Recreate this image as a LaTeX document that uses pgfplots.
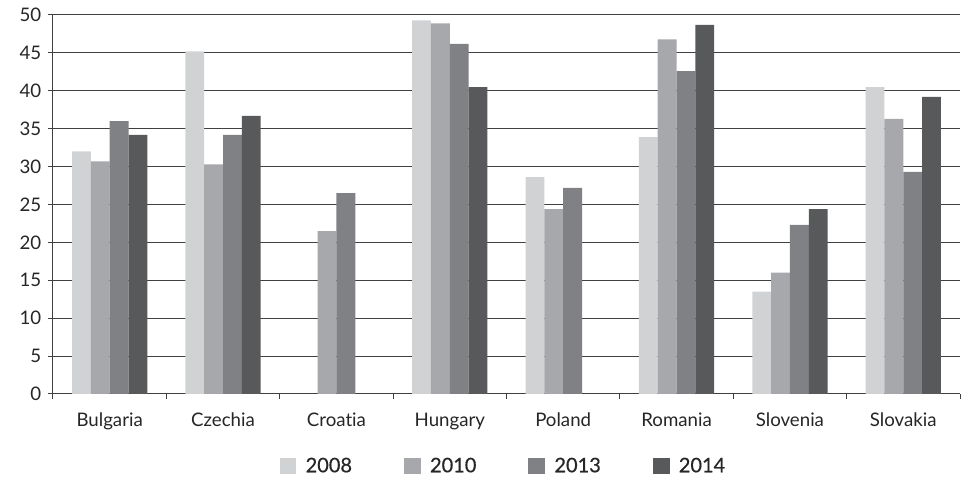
\documentclass[border=0pt]{standalone}
\usepackage{fontspec}
\setmainfont{Lato}[Ligatures=CommonOff]
\newfontfamily\legendfont{Lato}[Ligatures=CommonOff, FakeBold=0.6]
\usepackage{pgfplots}
\pgfplotsset{compat=1.18}

\definecolor{c2008}{HTML}{D1D2D4}
\definecolor{c2010}{HTML}{A7A8AB}
\definecolor{c2013}{HTML}{808184}
\definecolor{c2014}{HTML}{58595B}
\definecolor{gridc}{HTML}{404040}

\begin{document}
\begin{tikzpicture}
\useasboundingbox (-39.75pt,-62.25pt) rectangle (681pt,295.5pt);
\begin{axis}[
  at={(0,0)}, anchor=south west,
  width=680.25pt, height=284.25pt, scale only axis,
  xmin=-0.5, xmax=7.5, ymin=0, ymax=50,
  ytick={0,5,...,50},
  xtick={0,...,7},
  xticklabels={Bulgaria,Czechia,Croatia,Hungary,Poland,Romania,Slovenia,Slovakia},
  minor xtick={-0.5,0.5,...,7.5},
  major x tick style={draw=none},
  tick align=outside,
  major tick length=3.75pt, minor tick length=3.75pt,
  tick style={gridc, line width=0.75pt},
  axis x line*=bottom, axis y line*=left,
  axis line style={gridc, line width=0.75pt, -},
  ymajorgrids,
  grid style={gridc, line width=0.75pt},
  ybar=0pt, bar width=0.166,
  every axis plot/.append style={draw=none},
  tick label style={font=\fontsize{14}{16}\selectfont, text=black!85},
  /pgf/number format/assume math mode=true,
  yticklabel style={xshift=-1.5pt},
  xticklabel style={yshift=-7pt},
  legend columns=4,
  legend style={at={(0.497,-0.19)}, anchor=center, draw=none, fill=none,
    font=\legendfont\fontsize{15}{17}\selectfont, text=black!85,
    /tikz/every even column/.append style={column sep=37pt},
    /tikz/every odd column/.append style={column sep=5pt}},
  legend image code/.code={\fill[#1] (0pt,-6.25pt) rectangle (12.5pt,6.25pt);},
]
\addplot[fill=c2008] coordinates {(0,32.0) (1,45.2) (3,49.3) (4,28.6) (5,33.9) (6,13.5) (7,40.5)};
\addplot[fill=c2010] coordinates {(0,30.7) (1,30.3) (2,21.5) (3,48.9) (4,24.4) (5,46.8) (6,16.0) (7,36.3)};
\addplot[fill=c2013] coordinates {(0,36.0) (1,34.2) (2,26.5) (3,46.2) (4,27.2) (5,42.6) (6,22.3) (7,29.3)};
\addplot[fill=c2014] coordinates {(0,34.2) (1,36.7) (3,40.5) (5,48.7) (6,24.4) (7,39.2)};
\legend{2008,2010,2013,2014}
\end{axis}
\end{tikzpicture}
\end{document}
